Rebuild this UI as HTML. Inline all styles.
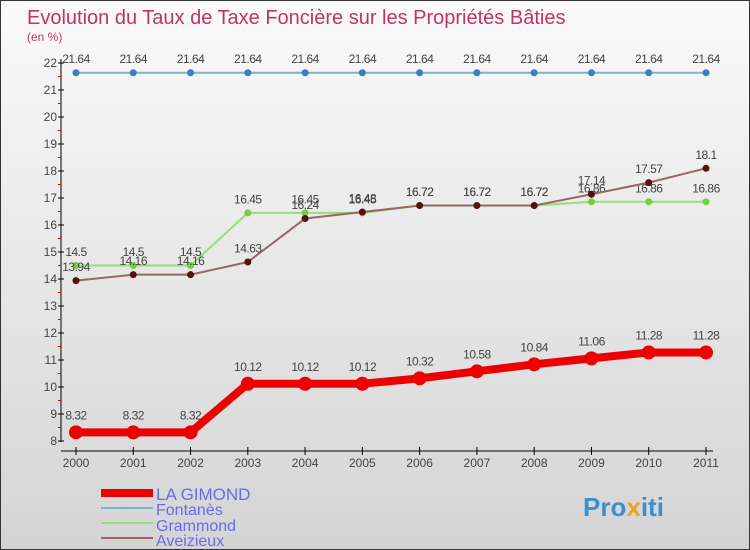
<!DOCTYPE html>
<html><head><meta charset="utf-8"><style>
body{margin:0}
#c{width:748px;height:548px;border:1px solid #333;background:linear-gradient(#fafafa,#d4d4d4);position:relative;font-family:"Liberation Sans",sans-serif;overflow:hidden}
text{font-family:"Liberation Sans",sans-serif}
</style></head><body>
<div id="c">
<svg id="s" width="748" height="548">
<text x="26" y="23" font-size="20" fill="#c0336a">Evolution du Taux de Taxe Foncière sur les Propriétés Bâties</text>
<text x="26" y="40" font-size="12" fill="#c0336a">(en %)</text>
<g id="axes"></g><g id="series"></g>
<g>
<rect x="100" y="488" width="52" height="8" fill="#e00"/>
<text x="155" y="499" font-size="17" fill="#6a6aee">LA GIMOND</text>
<line x1="100" y1="507" x2="152" y2="507" stroke="#7fb0d0" stroke-width="2"/>
<text x="155" y="514" font-size="16" fill="#6a6aee">Fontanès</text>
<line x1="100" y1="522" x2="152" y2="522" stroke="#99dd77" stroke-width="2"/>
<text x="155" y="530" font-size="16" fill="#6a6aee">Grammond</text>
<line x1="100" y1="537" x2="152" y2="537" stroke="#996666" stroke-width="2"/>
<text x="155" y="545" font-size="16" fill="#6a6aee">Aveizieux</text>
</g>
<text x="582" y="515" font-size="26" font-weight="bold" fill="#3a8fd0">Pro<tspan fill="#f0a020">x</tspan>iti</text>
</svg></div>
<script>
const years=[2000,2001,2002,2003,2004,2005,2006,2007,2008,2009,2010,2011];
const yTicks=[8,9,10,11,12,13,14,15,16,17,18,19,20,21,22];
const gimond=[8.32,8.32,8.32,10.12,10.12,10.12,10.32,10.58,10.84,11.06,11.28,11.28];
const fontanes=[21.64,21.64,21.64,21.64,21.64,21.64,21.64,21.64,21.64,21.64,21.64,21.64];
const grammond=[14.5,14.5,14.5,16.45,16.45,16.45,16.72,16.72,16.72,16.86,16.86,16.86];
const aveizieux=[13.94,14.16,14.16,14.63,16.24,16.48,16.72,16.72,16.72,17.14,17.57,18.1];
const NS="http://www.w3.org/2000/svg";
const X=i=>75+i*(630/11);
const Y=v=>440-(v-8)*27;
function mk(p,t,a){const e=document.createElementNS(NS,t);for(const k in a)e.setAttribute(k,a[k]);p.appendChild(e);return e;}
const ax=document.getElementById('axes');
let l=mk(ax,'line',{x1:60,y1:58,x2:60,y2:441,stroke:'#000'});


l=mk(ax,'line',{x1:60,y1:450,x2:712,y2:450,stroke:'#000'});


yTicks.forEach(v=>{
 mk(ax,'line',{x1:57,y1:Y(v),x2:63,y2:Y(v),stroke:'#000'});
 if(v<22)mk(ax,'line',{x1:57,y1:Y(v+0.5),x2:60,y2:Y(v+0.5),stroke:'#e00'});
 const t=mk(ax,'text',{x:56,y:Y(v)+4,'font-size':12,fill:'#444','text-anchor':'end'});t.textContent=v;
 
 
});
years.forEach((y,i)=>{
 mk(ax,'line',{x1:X(i),y1:446,x2:X(i),y2:454,stroke:'#000'});
 const t=mk(ax,'text',{x:X(i),y:466,'font-size':12,fill:'#444','text-anchor':'middle'});t.textContent=y;
 
 
});
const sg=document.getElementById('series');
function draw(name,vals,col,dot,w,r){
 const g=mk(sg,'g',{});
 
 
 mk(g,'polyline',{points:vals.map((v,i)=>X(i)+','+Y(v)).join(' '),fill:'none',stroke:col,'stroke-width':w,'stroke-linejoin':'round'});
 vals.forEach((v,i)=>{
  const c=mk(g,'circle',{cx:X(i),cy:Y(v),r:r,fill:dot});
  
  
  const t=mk(g,'text',{x:X(i),y:Y(v)-(r+6),'font-size':12,fill:'#444','text-anchor':'middle','letter-spacing':'-0.5'});t.textContent=v;
  
  
 });
}
draw('grammond',grammond,'#99dd77','#77cc44',2,3.5);
draw('aveizieux',aveizieux,'#996666','#551111',2,3.5);
draw('fontanes',fontanes,'#7fb0d0','#3a80c0',2,3.5);
draw('la-gimond',gimond,'#e00','#e00',8,7);
</script>
</body></html>
